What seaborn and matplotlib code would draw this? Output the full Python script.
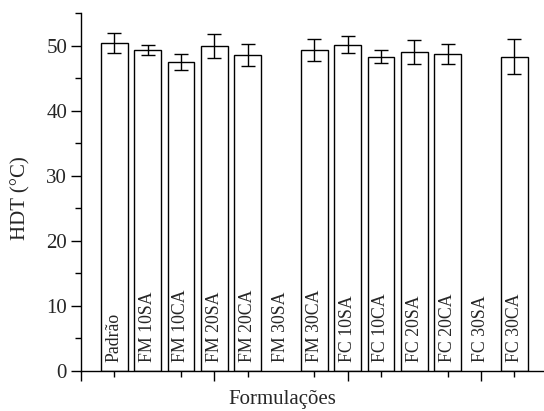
import numpy as np
import pandas as pd
import seaborn as sns
import matplotlib.pyplot as plt
from matplotlib.ticker import MultipleLocator

categories = ["Padrão", "FM 10SA", "FM 10CA", "FM 20SA", "FM 20CA", "FM 30SA", "FM 30CA",
              "FC 10SA", "FC 10CA", "FC 20SA", "FC 20CA", "FC 30SA", "FC 30CA"]
hdt = [50.4, 49.3, 47.5, 49.9, 48.6, np.nan, 49.3, 50.1, 48.3, 49.0, 48.7, np.nan, 48.3]
hdt_err = [1.6, 0.8, 1.2, 1.8, 1.7, np.nan, 1.7, 1.3, 1.05, 1.8, 1.5, np.nan, 2.7]

sns.set_style("ticks")
plt.rcParams['font.family'] = ['Liberation Serif', 'DejaVu Serif']
plt.rcParams['font.size'] = 12

df = pd.DataFrame({"Formulacao": categories, "HDT": hdt, "err": hdt_err})

fig = plt.figure(figsize=(5.44, 4.11), dpi=100)
ax = fig.add_axes([81 / 544, 1 - 370.7 / 411, (547.6 - 81) / 544, (370.7 - 13) / 411])

sns.barplot(data=df, x="Formulacao", y="HDT", order=categories, errorbar=None,
            color="white", edgecolor="black", linewidth=1, width=0.8, ax=ax)
ax.errorbar(np.arange(len(categories)), df["HDT"], yerr=df["err"], fmt="none",
            ecolor="black", elinewidth=1, capsize=5, capthick=1)

for i, lab in enumerate(categories):
    ax.text(i, 1.35, lab, rotation=90, ha="center", va="bottom", fontsize=12.8)

ax.set_xlim(-1, 13)
ax.set_ylim(0, 55)
ax.set_xticks([-1, 3, 7, 11])
ax.set_xticklabels([])
ax.xaxis.set_minor_locator(MultipleLocator(2))
ax.set_yticks([0, 10, 20, 30, 40, 50])
ax.yaxis.set_minor_locator(MultipleLocator(5))
ax.tick_params(which="major", direction="out", length=7, width=1, color="black",
               labelsize=15, pad=3)
ax.tick_params(which="minor", direction="out", length=4, width=1, color="black")
ax.set_xlabel("")
ax.set_ylabel("")
for side in ["top", "right"]:
    ax.spines[side].set_visible(False)
for side in ["left", "bottom"]:
    ax.spines[side].set_linewidth(1)
    ax.spines[side].set_color("black")

fig.text(282 / 544, 1 - 399 / 411, "Formulações", ha="center", va="center", fontsize=15)
fig.text(21 / 544, 1 - 198 / 411, "HDT (°C)", ha="center", va="center", rotation=90, fontsize=15)

fig.savefig("out.png", dpi=100)
